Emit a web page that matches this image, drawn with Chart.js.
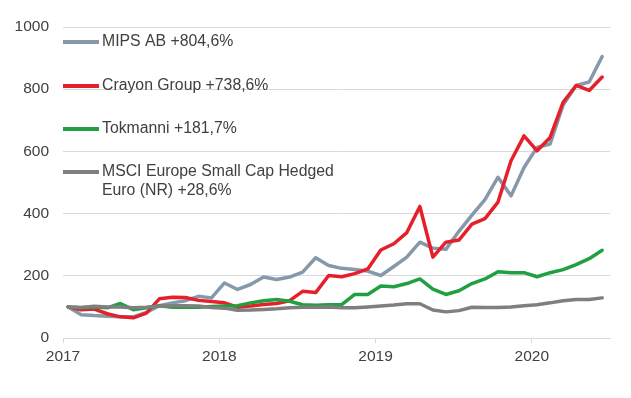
<!DOCTYPE html>
<html>
<head>
<meta charset="utf-8">
<script src="https://cdn.jsdelivr.net/npm/chart.js@4.4.0/dist/chart.umd.min.js"></script>
<style>
  html, body { margin: 0; padding: 0; background: #ffffff; }
  #wrap { width: 631px; height: 398px; position: relative; }
</style>
</head>
<body>
<div id="wrap"><canvas id="c" width="631" height="398"></canvas></div>
<script>
// Monthly observations, Jan 2017 - Jun 2020 (indexed, start = 100)
const months = [
  "2017-01","2017-02","2017-03","2017-04","2017-05","2017-06","2017-07","2017-08","2017-09","2017-10","2017-11","2017-12",
  "2018-01","2018-02","2018-03","2018-04","2018-05","2018-06","2018-07","2018-08","2018-09","2018-10","2018-11","2018-12",
  "2019-01","2019-02","2019-03","2019-04","2019-05","2019-06","2019-07","2019-08","2019-09","2019-10","2019-11","2019-12",
  "2020-01","2020-02","2020-03","2020-04","2020-05","2020-06"
];
const mips = [100, 75, 72, 70, 68, 68, 82, 104, 113, 120, 134, 129,
              177, 156, 172, 196, 188, 196, 212, 258, 233, 224, 220, 215,
              201, 230, 260, 308, 289, 285, 343, 395, 445, 517, 457, 548,
              613, 624, 749, 812, 823, 905];
const crayon = [100, 91, 93, 78, 68, 65, 80, 126, 131, 130, 121, 117,
                113, 99, 103, 108, 111, 120, 150, 146, 201, 197, 207, 222,
                283, 303, 339, 423, 260, 308, 315, 366, 384, 437, 570, 650,
                602, 645, 758, 812, 796, 839];
const tokmanni = [100, 97, 100, 97, 111, 91, 97, 104, 99, 99, 99, 101,
                  103, 104, 113, 120, 124, 118, 107, 105, 107, 107, 140, 140,
                  167, 165, 175, 190, 157, 140, 152, 175, 190, 213, 210, 210,
                  197, 210, 220, 236, 255, 282];
const msci = [100, 98, 102, 100, 100, 97, 99, 102, 104, 104, 103, 98,
              96, 89, 90, 92, 94, 97, 99, 99, 100, 97, 97, 100,
              103, 106, 110, 110, 90, 84, 88, 99, 98, 98, 100, 104,
              107, 113, 120, 124, 124, 129];
const yearTicks = [2017, 2018, 2019, 2020];
const legendLabels = [
  ["MIPS AB +804,6%"],
  ["Crayon Group +738,6%"],
  ["Tokmanni +181,7%"],
  ["MSCI Europe Small Cap Hedged", "Euro (NR) +28,6%"]
];

const colors = ["#8599AB", "#E5202B", "#21A041", "#7F7F7F"];
const FONT = "'Liberation Sans', Arial, sans-serif";
const TEXT = "#404040";

// observation date (mid-month-ish) -> decimal year on the time axis
function toX(m) {
  const [y, mo] = m.split("-").map(Number);
  return y + (mo - 1 + 0.4) / 12;
}
function series(vals) { return vals.map((v, i) => ({ x: toX(months[i]), y: v })); }

const seriesList = [mips, crayon, tokmanni, msci];
const datasets = seriesList.map((vals, k) => ({
  label: legendLabels[k].join(" "),
  data: series(vals),
  borderColor: colors[k],
  backgroundColor: colors[k],
  borderWidth: 3.5,
  pointRadius: 0,
  tension: 0,
  borderJoinStyle: "round",
  borderCapStyle: "round",
  order: 4 - k
}));

const legendPlugin = {
  id: "insideLegend",
  afterDraw(chart) {
    const ctx = chart.ctx;
    const rows = [42, 86, 129, 172];
    ctx.save();
    ctx.font = "15.8px " + FONT;
    ctx.textBaseline = "middle";
    ctx.textAlign = "left";
    legendLabels.forEach((lines, k) => {
      const y = rows[k];
      ctx.strokeStyle = colors[k];
      ctx.lineWidth = 4;
      ctx.lineCap = "butt";
      ctx.beginPath();
      ctx.moveTo(63, y);
      ctx.lineTo(99, y);
      ctx.stroke();
      ctx.fillStyle = TEXT;
      lines.forEach((t, j) => ctx.fillText(t, 102, y + j * 19));
    });
    ctx.restore();
  }
};

new Chart(document.getElementById("c"), {
  type: "line",
  data: { datasets },
  plugins: [legendPlugin],
  options: {
    responsive: false,
    animation: false,
    layout: { padding: { top: 27, right: 21, left: 0, bottom: 0 } },
    plugins: { legend: { display: false }, tooltip: { enabled: false } },
    scales: {
      x: {
        type: "linear",
        min: 2017,
        max: 2020.5,
        afterBuildTicks(scale) {
          scale.ticks = yearTicks.map(v => ({ value: v }));
        },
        afterFit(scale) { scale.height = 60; },
        ticks: {
          font: { family: FONT, size: 15.5 },
          color: TEXT,
          padding: 4,
          maxRotation: 0,
          autoSkip: false,
          callback: v => String(v)
        },
        grid: {
          drawOnChartArea: false,
          drawTicks: true,
          tickLength: 5,
          color: "#D9D9D9",
          lineWidth: 1
        },
        border: { display: true, color: "#D9D9D9", width: 1 }
      },
      y: {
        min: 0,
        max: 1000,
        afterFit(scale) { scale.width = 63; },
        ticks: {
          stepSize: 200,
          font: { family: FONT, size: 15.5 },
          color: TEXT,
          padding: 14,
          callback: v => String(v)
        },
        grid: { color: "#D9D9D9", lineWidth: 1, drawTicks: false },
        border: { display: false }
      }
    }
  }
});
</script>
</body>
</html>
